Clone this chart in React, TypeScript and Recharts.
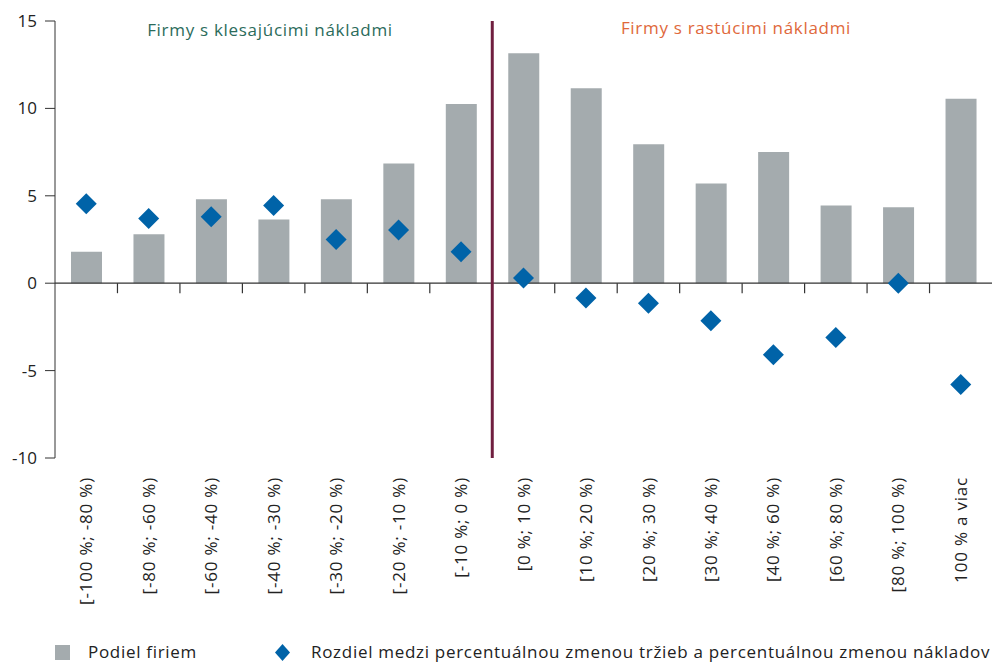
import React from 'react';
import { ComposedChart, Bar, Scatter, XAxis, YAxis, ReferenceLine, Legend } from 'recharts';

// cost change buckets
const categories = [
  '[-100 %; -80 %)', '[-80 %; -60 %)', '[-60 %; -40 %)', '[-40 %; -30 %)', '[-30 %; -20 %)',
  '[-20 %; -10 %)', '[-10 %; 0 %)', '[0 %; 10 %)', '[10 %; 20 %)', '[20 %; 30 %)',
  '[30 %; 40 %)', '[40 %; 60 %)', '[60 %; 80 %)', '[80 %; 100 %)', '100 % a viac',
];
const firmShare = [1.8, 2.8, 4.8, 3.65, 4.8, 6.85, 10.25, 13.15, 11.15, 7.95, 5.7, 7.5, 4.45, 4.35, 10.55];
const salesCostGap = [4.55, 3.7, 3.8, 4.45, 2.5, 3.05, 1.8, 0.3, -0.85, -1.15, -2.15, -4.1, -3.1, 0.0, -5.8];
const yTicks = [-10, -5, 0, 5, 10, 15];
const splitAt = 7; // first bucket with rising costs

const data = categories.map((name, i) => ({ name, share: firmShare[i], gap: salesCostGap[i] }));

const BAR = '#a4abae';
const BLUE = '#0063a8';
const AXIS = '#333';
const FONT = '"Open Sans", sans-serif';

const Diamond = (props: any) => {
  const { cx, cy } = props;
  const r = 10.5;
  return <path d={`M${cx},${cy - r}L${cx + r},${cy}L${cx},${cy + r}L${cx - r},${cy}Z`} fill={BLUE} />;
};

// zero line with tick marks between the buckets
const ZeroAxis = (props: any) => {
  const { x1, y1, x2 } = props;
  const n = categories.length;
  const step = (x2 - x1) / n;
  return (
    <g>
      <line x1={x1} y1={y1} x2={x2} y2={y1} stroke={AXIS} strokeWidth={1.2} />
      {categories.slice(1).map((c, i) => {
        const x = x1 + step * (i + 1);
        return <line key={c} x1={x} y1={y1} x2={x} y2={y1 + 10} stroke={AXIS} strokeWidth={1.2} />;
      })}
    </g>
  );
};

const RotatedTick = (props: any) => {
  const { x, y, payload } = props;
  const ty = y + 11;
  return (
    <text x={x} y={ty} transform={`rotate(-90, ${x}, ${ty})`} textAnchor="end" dy="0.36em"
      fontSize={17} letterSpacing={0.8} fill="#222" fontFamily={FONT}>
      {payload.value}
    </text>
  );
};

const LegendBox = () => (
  <div style={{ position: 'relative', height: 46, fontFamily: FONT, fontSize: 17, letterSpacing: 0.7, color: '#222' }}>
    <div style={{ position: 'absolute', left: 55, top: 27, width: 15, height: 15, background: BAR }} />
    <span style={{ position: 'absolute', left: 88, top: 22 }}>Podiel firiem</span>
    <svg style={{ position: 'absolute', left: 274, top: 26 }} width={17} height={17}>
      <path d="M8.5,0L16,8.5L8.5,17L1,8.5Z" fill={BLUE} />
    </svg>
    <span style={{ position: 'absolute', left: 311, top: 22, whiteSpace: 'nowrap' }}>
      Rozdiel medzi percentuálnou zmenou tržieb a percentuálnou zmenou nákladov
    </span>
  </div>
);

export default function App() {
  return (
    <div style={{ position: 'absolute', left: 0, top: 0, width: 992, height: 664, background: '#fff' }}>
      <ComposedChart width={992} height={664} data={data}
        margin={{ top: 21, right: 0, bottom: 0, left: 0 }} barCategoryGap="50%">
        <XAxis dataKey="name" interval={0} axisLine={false} tickLine={false} height={160}
          tick={<RotatedTick />} />
        <YAxis domain={[-10, 15]} ticks={yTicks} width={55} tickSize={10} tickMargin={8}
          axisLine={{ stroke: AXIS }} tickLine={{ stroke: AXIS }}
          tick={{ fontSize: 17, fill: '#222', fontFamily: FONT }} />
        <Legend verticalAlign="bottom" content={<LegendBox />} wrapperStyle={{ left: 0, width: 992 }} />
        <Bar dataKey="share" fill={BAR} barSize={31} isAnimationActive={false} />
        <ReferenceLine y={0} shape={<ZeroAxis />} />
        <ReferenceLine x={categories[splitAt]} position="start" stroke="#701f3f" strokeWidth={3} />
        <Scatter dataKey="gap" shape={<Diamond />} isAnimationActive={false} />
      </ComposedChart>
      <div style={{ position: 'absolute', left: 270, top: 18, transform: 'translateX(-50%)', whiteSpace: 'nowrap',
        fontFamily: FONT, fontSize: 17, letterSpacing: 0.7, color: '#2b6b5b' }}>Firmy s klesajúcimi nákladmi</div>
      <div style={{ position: 'absolute', left: 736, top: 16, transform: 'translateX(-50%)', whiteSpace: 'nowrap',
        fontFamily: FONT, fontSize: 17, letterSpacing: 0.7, color: '#e0683b' }}>Firmy s rastúcimi nákladmi</div>
    </div>
  );
}
